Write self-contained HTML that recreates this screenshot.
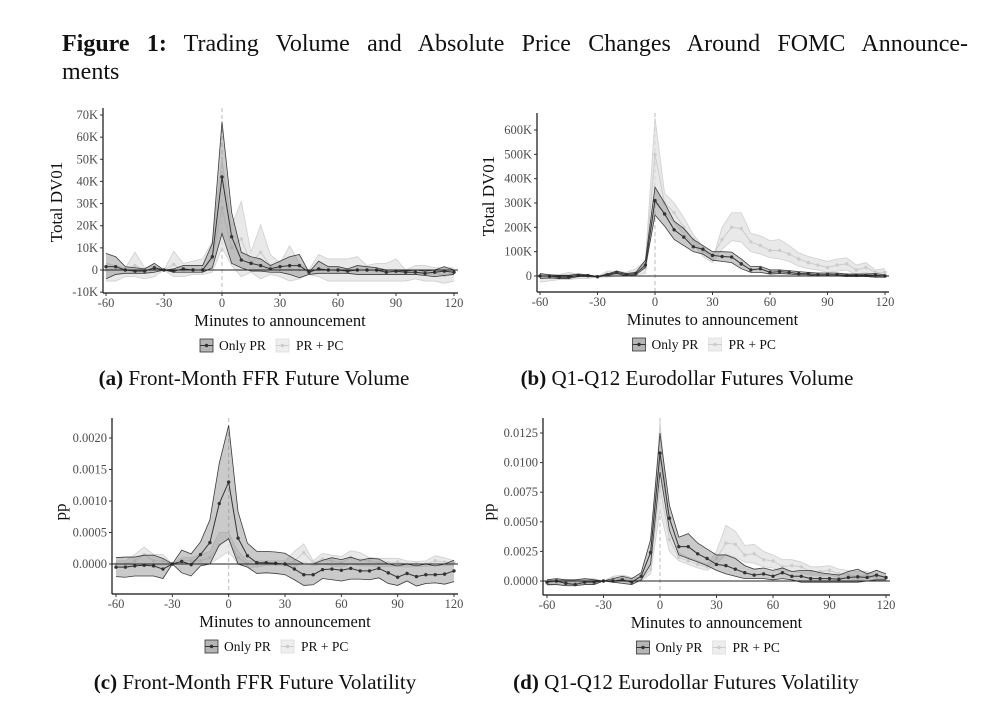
<!DOCTYPE html>
<html><head><meta charset="utf-8">
<style>
body{margin:0;background:#fff;width:1000px;height:705px;overflow:hidden;font-family:"Liberation Serif",serif;}
.tl{position:absolute;left:62px;width:906px;font-size:24px;line-height:28px;color:#111;white-space:nowrap;}
#t1{top:30px;text-align:justify;text-align-last:justify;white-space:normal;}
#t2{top:58px;}
.cap{position:absolute;font-size:21px;color:#111;white-space:nowrap;transform:translateX(-50%);}
svg{position:absolute;left:0;top:0;}
</style></head>
<body>
<div class="tl" id="t1"><b>Figure 1:</b> Trading Volume and Absolute Price Changes Around FOMC Announce-</div>
<div class="tl" id="t2">ments</div>
<div class="cap" style="left:254px;top:366px"><b>(a)</b> Front-Month FFR Future Volume</div>
<div class="cap" style="left:687px;top:366px"><b>(b)</b> Q1-Q12 Eurodollar Futures Volume</div>
<div class="cap" style="left:255px;top:670px"><b>(c)</b> Front-Month FFR Future Volatility</div>
<div class="cap" style="left:686px;top:670px"><b>(d)</b> Q1-Q12 Eurodollar Futures Volatility</div>
<svg id="fig" width="1000" height="705"></svg>
<script>
const minutes=[-60,-55,-50,-45,-40,-35,-30,-25,-20,-15,-10,-5,0,5,10,15,20,25,30,35,40,45,50,55,60,65,70,75,80,85,90,95,100,105,110,115,120];
const xTicks=[-60,-30,0,30,60,90,120];
// Panel A (thousands)
const aPrMean=[1.5,1.5,0,-0.5,-0.5,1,0,-0.5,0.5,0,0,6,42,15,4.5,3,2,0.5,1.5,2,2,-1,0.5,0,0,-0.5,0,0,0,-1,-0.5,-1,-1,-1.5,-1,-0.5,-1];
const aPrHi=[7.5,6,1.5,1,0.5,3,0,0.5,2,2,2,12,67,26,8,6,5,2,4,6,7,-1,4,1.5,1.5,0.5,2,1.5,1,0,0,-0.5,0,-0.5,0,1.5,0];
const aPrLo=[-4,-2,-1.5,-1.5,-1.5,-1,0,-1,-1,-1,-1,1,16.5,3,1,-0.5,-0.5,-1,-1,-2,-3.5,-2,-1.5,-1.5,-1.5,-1.5,-2,-2,-2,-2,-2,-2,-2,-2.5,-3,-2.5,-2];
const aPcMean=[0,1,0,2,0,0.5,0,2.5,0,0,0,5,28,10,14,3,8,2,0,0.5,0,-0.5,0,0,-0.5,-0.5,0,0,-0.5,-1,-1,-1,-1,-1,-1,-2.5,-1];
const aPcHi=[3,2,1,8,1,2,0,8.5,3,4,5,13,50,20,31,8,20.5,7,3,11,3,0,7,5,5,5,6,2,3,3,5,0,2,2,1,1,1];
const aPcLo=[-5,-5,-3,-3,-4,-3,0,-3,-3,-2,-2,-1,10,2,-3,-1,-4,-2,-3,-5,-4,-2,-3,-5,-5,-5,-5,-5,-5,-5,-5,-5,-4,-5,-5,-6,-5];
const aYTicks=[-10,0,10,20,30,40,50,60,70];
const aYLabels=["-10K","0","10K","20K","30K","40K","50K","60K","70K"];
// Panel B (thousands)
const bPrMean=[0,0,-5,-5,3,2,-3,5,15,5,10,45,310,255,190,160,120,110,85,80,78,50,25,30,15,18,15,10,10,5,5,5,3,3,3,3,0];
const bPrHi=[10,5,3,3,8,5,-2,8,20,10,15,65,365,300,225,195,150,125,100,100,98,70,38,40,25,25,22,18,15,12,12,12,8,8,8,10,5];
const bPrLo=[-10,-8,-10,-10,-2,-2,-4,2,10,0,5,35,250,205,150,125,100,90,65,60,55,30,15,15,8,10,8,5,5,0,0,0,-2,-2,-2,-5,-5];
const bPcMean=[0,-5,-8,-5,0,-3,-3,8,10,5,15,35,500,300,260,200,150,100,80,150,200,195,140,125,105,105,90,70,55,45,35,45,50,25,35,15,15];
const bPcHi=[10,0,5,15,8,5,-2,20,20,15,30,60,650,340,300,240,170,120,65,200,260,260,175,165,145,150,125,95,80,70,60,70,75,45,55,25,30];
const bPcLo=[-25,-20,-15,-15,-10,-10,-4,-5,0,0,5,10,300,260,220,170,130,80,55,110,145,140,100,90,75,70,60,40,30,25,15,20,25,5,15,-5,0];
const bYTicks=[0,100,200,300,400,500,600];
const bYLabels=["0","100K","200K","300K","400K","500K","600K"];
// Panel C (1e-4 pp)
const cPrMean=[-0.5,-0.5,-0.3,-0.2,-0.3,-0.8,0,0.4,-0.1,1.5,3.4,9.6,13,4.1,1.3,0.2,0.2,0.1,0,-0.8,-1.7,-1.7,-0.9,-0.8,-1,-0.7,-1.1,-1.1,-0.7,-1.4,-2.1,-1.5,-2,-1.7,-1.7,-1.6,-1.1];
const cPrHi=[1,1.1,1.1,1.4,1.4,0.9,0,2.2,1.6,3.5,7,16,22,8.3,3.3,2,2,1.9,1.7,0.8,0,0,0.6,1,0.7,1.1,0.6,0.9,0.8,0,-0.3,0,-0.3,0,-0.3,0,0.6];
const cPrLo=[-2,-2.1,-1.9,-1.9,-1.9,-2.3,0,-1.4,-1.9,-0.3,0,3,4,0,-0.5,-1.5,-1.4,-1.5,-1.7,-2.5,-3.4,-3.3,-2.3,-2.5,-2.7,-2.4,-2.4,-2.5,-2.2,-3.1,-3.4,-2.7,-3.5,-3.1,-3,-3.2,-2.8];
const cPcMean=[0,0,0.5,1.5,0.5,0.5,0,0.5,0.5,0.5,1,3,4,1,0,0,0.2,0.2,0,0.5,1.8,0.2,0.8,0.5,0.2,1,0.6,0.5,0.2,0.2,0.3,0,0,0,0.5,0.3,0.2];
const cPcHi=[0.5,0.5,1.5,2.7,1.5,1.5,0,1,1,1.5,2,5,5,2,0.5,0.5,0.5,0.5,0.5,2,3.2,0.5,1.7,1.4,1.2,2.1,1.8,1,0.9,0.9,0.9,0.5,0.4,0.5,1.3,1,0.5];
const cPcLo=[-0.5,-0.5,-0.3,0,-0.3,-0.3,0,0,0,0,0,1,2,0,-0.5,-0.5,-0.2,-0.2,-0.3,-0.5,0.3,-0.3,0,-0.3,-0.5,0,-0.3,-0.3,-0.4,-0.4,-0.4,-0.5,-0.4,-0.4,-0.2,-0.3,-0.2];
const cYTicks=[0,5,10,15,20];
const cYLabels=["0.0000","0.0005","0.0010","0.0015","0.0020"];
// Panel D (1e-4 pp)
const dPrMean=[-1,0,-2,-3,-1,-1,0,0,1,-1,4,24,108,53,29,29,23,19,14,13,10,7,5,6,4,7,4,4,2,2,2,1.5,3,3.5,3,5,3];
const dPrHi=[1,2,1,1,2,1,0,2,4,2,7,35,125,64,37,40,32,27,22,22,19,13,10,11,9,11,8,9,9,7,6,5,8,10,6,9,6];
const dPrLo=[-3,-3,-4,-4,-3,-3,0,-1,-2,-3,1,14,92,43,22,19,16,13,9,6,4,2,2,2,1,2,1,-1,-1,-1,-1,-1,-1,-1,0,1,1];
const dPcMean=[-2,-1,-1,-2,0,0,0,2,2,0,1,10,80,35,20,17,14,12,19,32,31,22,23,18,17,12,13,12,8,8,9,6,5,4,5,3,2];
const dPcHi=[0,1,1,0,2,2,0,4,5,3,3,15,135,40,24,20,17,14,25,47,42,30,31,25,22,18,18,16,12,12,13,10,9,8,8,5,4];
const dPcLo=[-4,-3,-3,-3,-2,-2,0,0,0,-2,0,6,60,25,17,14,11,9,14,23,20,16,15,12,11,8,8,7,5,5,5,3,2,1,2,1,0];
const dYTicks=[0,25,50,75,100,125];
const dYLabels=["0.0000","0.0025","0.0050","0.0075","0.0100","0.0125"];

const NS="http://www.w3.org/2000/svg";
const svg=document.getElementById('fig');
function mk(tag,attrs,parent){const e=document.createElementNS(NS,tag);for(const k in attrs)e.setAttribute(k,attrs[k]);(parent||svg).appendChild(e);return e;}

function panel(id,g,prM,prH,prL,pcM,pcH,pcL,yT,yL,yTitle){
  const grp=mk('g',{});
  
  
  const X=v=>g.xa+(v-(-60))*(g.xb-g.xa)/180;
  const Y=v=>g.y0+(v-g.v0)*(g.y1-g.y0)/(g.v1-g.v0);
  function band(M,H,L,fill,stroke,sw,op,name){
    let up=minutes.map((m,i)=>X(m)+','+Y(H[i])).join(' ');
    let lo=minutes.map((m,i)=>X(m)+','+Y(L[i])).reverse().join(' ');
    const p=mk('polygon',{points:up+' '+lo,fill:fill,'fill-opacity':op,stroke:'none'},grp);
    
    
    mk('polyline',{points:up,fill:'none',stroke:stroke,'stroke-width':sw},grp);
    mk('polyline',{points:minutes.map((m,i)=>X(m)+','+Y(L[i])).join(' '),fill:'none',stroke:stroke,'stroke-width':sw},grp);
  }
  function line(M,color,name){
    const l=mk('polyline',{points:minutes.map((m,i)=>X(m)+','+Y(M[i])).join(' '),fill:'none',stroke:color,'stroke-width':1},grp);
    
    
    minutes.forEach((m,i)=>{const c=mk('circle',{cx:X(m),cy:Y(M[i]),r:1.7,fill:color},grp);
      
      });
  }
  mk('line',{x1:X(0),x2:X(0),y1:g.top,y2:g.bot,stroke:'#bbb','stroke-dasharray':'4,3','stroke-width':1},grp);
  band(pcM,pcH,pcL,'#e2e2e2','#cfcfcf',0.8,0.75,'pr-pc');
  line(pcM,'#cccccc','pr-pc');
  band(prM,prH,prL,'#8a8a8a','#3a3a3a',0.8,0.45,'only-pr');
  line(prM,'#333','only-pr');
  mk('line',{x1:g.ax,x2:g.right,y1:Y(0),y2:Y(0),stroke:'#222','stroke-width':1},grp);
  mk('line',{x1:g.ax,x2:g.ax,y1:g.top,y2:g.bot,stroke:'#111','stroke-width':1.2},grp);
  mk('line',{x1:g.ax,x2:g.right,y1:g.bot,y2:g.bot,stroke:'#111','stroke-width':1.2},grp);
  yT.forEach((v,i)=>{
    mk('line',{x1:g.ax-3,x2:g.ax,y1:Y(v),y2:Y(v),stroke:'#333'},grp);
    const t=mk('text',{x:g.ax-5,y:Y(v)+4,'text-anchor':'end','font-size':12.5,fill:'#4d4d4d','font-family':'Liberation Serif, serif'},grp);
    t.textContent=yL[i];
    
    
  });
  xTicks.forEach(v=>{
    mk('line',{x1:X(v),x2:X(v),y1:g.bot,y2:g.bot+3,stroke:'#333'},grp);
    const t=mk('text',{x:X(v),y:g.bot+14,'text-anchor':'middle','font-size':12.5,fill:'#4d4d4d','font-family':'Liberation Serif, serif'},grp);
    t.textContent=v;
    
    
  });
  const cx=(g.xa+g.xb)/2;
  const xt=mk('text',{x:cx,y:g.bot+33,'text-anchor':'middle','font-size':16.5,fill:'#111','font-family':'Liberation Serif, serif'},grp);
  xt.textContent='Minutes to announcement';
  
  
  const yt=mk('text',{x:0,y:0,transform:`translate(${g.ytx},${g.yty}) rotate(-90)`,'text-anchor':'middle','font-size':17,fill:'#111','font-family':'Liberation Serif, serif'},grp);
  yt.textContent=yTitle;
  
  
  const ly=g.bot+53, lx=cx-80;
  const l1=mk('g',{},grp);
  
  
  mk('rect',{x:lx,y:ly-7,width:13,height:13,fill:'#b5b5b5',stroke:'#333','stroke-width':0.8},l1);
  mk('line',{x1:lx,x2:lx+13,y1:ly-0.5,y2:ly-0.5,stroke:'#333'},l1);
  mk('circle',{cx:lx+6.5,cy:ly-0.5,r:1.7,fill:'#333'},l1);
  const t1=mk('text',{x:lx+19,y:ly+4,'font-size':13.5,fill:'#111','font-family':'Liberation Serif, serif'},l1);t1.textContent='Only PR';
  const l2=mk('g',{},grp);
  
  
  mk('rect',{x:lx+76,y:ly-7,width:13,height:13,fill:'#eee',stroke:'#ddd','stroke-width':0.8},l2);
  mk('line',{x1:lx+76,x2:lx+89,y1:ly-0.5,y2:ly-0.5,stroke:'#ccc'},l2);
  mk('circle',{cx:lx+82.5,cy:ly-0.5,r:1.7,fill:'#ccc'},l2);
  const t2=mk('text',{x:lx+96,y:ly+4,'font-size':13.5,fill:'#111','font-family':'Liberation Serif, serif'},l2);t2.textContent='PR + PC';
}
panel('a',{xa:106,xb:454,v0:0,y0:270,v1:70,y1:115,ax:103,right:458,top:108,bot:293,ytx:62,yty:202},aPrMean,aPrHi,aPrLo,aPcMean,aPcHi,aPcLo,aYTicks,aYLabels,'Total DV01');
panel('b',{xa:540,xb:885,v0:0,y0:276,v1:600,y1:130,ax:537,right:889,top:113,bot:292,ytx:494,yty:196},bPrMean,bPrHi,bPrLo,bPcMean,bPcHi,bPcLo,bYTicks,bYLabels,'Total DV01');
panel('c',{xa:116,xb:454,v0:0,y0:564,v1:20,y1:438,ax:112,right:458,top:418,bot:594,ytx:66,yty:512},cPrMean,cPrHi,cPrLo,cPcMean,cPcHi,cPcLo,cYTicks,cYLabels,'pp');
panel('d',{xa:547,xb:886,v0:0,y0:581,v1:125,y1:433,ax:543,right:890,top:418,bot:595,ytx:494,yty:512},dPrMean,dPrHi,dPrLo,dPcMean,dPcHi,dPcLo,dYTicks,dYLabels,'pp');
</script>
</body></html>
